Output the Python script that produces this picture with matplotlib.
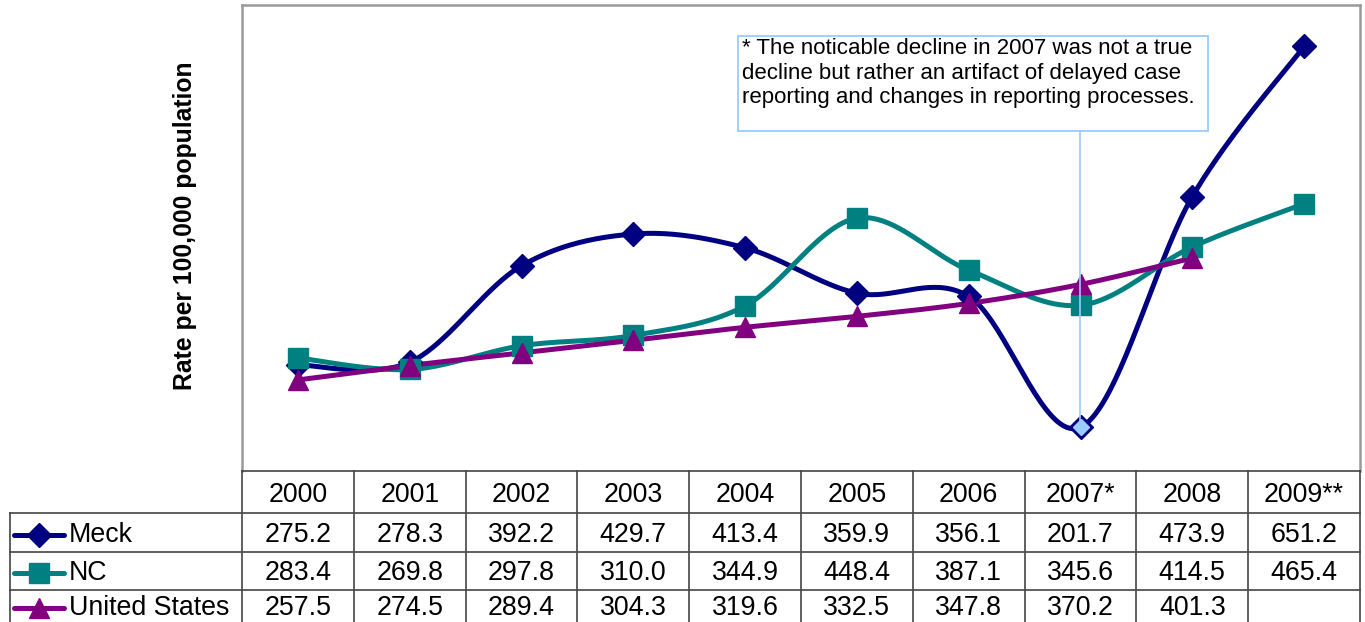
import numpy as np
import matplotlib
matplotlib.use("Agg")
import matplotlib.pyplot as plt
from matplotlib.patches import Rectangle

plt.rcParams['font.family'] = ['Liberation Sans', 'DejaVu Sans']

years = ["2000", "2001", "2002", "2003", "2004", "2005", "2006", "2007*", "2008", "2009**"]
meck = [275.2, 278.3, 392.2, 429.7, 413.4, 359.9, 356.1, 201.7, 473.9, 651.2]
nc = [283.4, 269.8, 297.8, 310.0, 344.9, 448.4, 387.1, 345.6, 414.5, 465.4]
us = [257.5, 274.5, 289.4, 304.3, 319.6, 332.5, 347.8, 370.2, 401.3, None]
series_names = ["Meck", "NC", "United States"]
series_values = [meck, nc, us]
colors = ["#000080", "#008080", "#800080"]
markers = ["D", "s", "^"]
msizes = [12, 14, 15]
note = ("* The noticable decline in 2007 was not a true\n"
        "decline but rather an artifact of delayed case\n"
        "reporting and changes in reporting processes.")
ylabel = "Rate per 100,000 population"

W, H = 1365, 622
fig = plt.figure(figsize=(W / 100, H / 100), dpi=100)

L, R, T, B = 242, 1360, 5, 471
ax = fig.add_axes([L / W, (H - B) / H, (R - L) / W, (B - T) / H])
ax.set_xlim(-0.5, 9.5)
ax.set_ylim(150, 700)
ax.set_xticks([])
ax.set_yticks([])
for s in ["left", "top", "right"]:
    ax.spines[s].set_color("#999999")
    ax.spines[s].set_linewidth(1.8)
ax.spines["bottom"].set_visible(False)


def smooth(xs, ys, n=40):
    xs = np.asarray(xs, float)
    ys = np.asarray(ys, float)
    px = np.concatenate([[xs[0]], xs, [xs[-1]]])
    py = np.concatenate([[ys[0]], ys, [ys[-1]]])
    outx, outy = [], []
    t = np.linspace(0, 1, n)
    for i in range(1, len(px) - 2):
        p0 = np.array([px[i], py[i]])
        p3 = np.array([px[i + 1], py[i + 1]])
        c1 = p0 + (np.array([px[i + 1], py[i + 1]]) - np.array([px[i - 1], py[i - 1]])) / 6
        c2 = p3 - (np.array([px[i + 2], py[i + 2]]) - np.array([px[i], py[i]])) / 6
        b = ((1 - t) ** 3)[:, None] * p0 + (3 * (1 - t) ** 2 * t)[:, None] * c1 \
            + (3 * (1 - t) * t ** 2)[:, None] * c2 + (t ** 3)[:, None] * p3
        outx.extend(b[:, 0])
        outy.extend(b[:, 1])
    return outx, outy


for name, vals, c, m, ms in zip(series_names, series_values, colors, markers, msizes):
    xs = [i for i, v in enumerate(vals) if v is not None]
    ys = [v for v in vals if v is not None]
    sx, sy = smooth(xs, ys)
    ax.plot(sx, sy, color=c, lw=3.6, solid_capstyle="round", zorder=3)
    ax.plot(xs, ys, linestyle="none", marker=m, color=c, ms=ms, zorder=4)

# highlighted 2007 Meck point and callout line
i07 = 7
ax.plot([i07], [meck[i07]], linestyle="none", marker="D", color="#99CCFF", ms=8, zorder=5)

tax = fig.add_axes([0, 0, 1, 1], facecolor="none")
tax.set_xlim(0, W)
tax.set_ylim(H, 0)
tax.axis("off")

# callout box and leader
box_x0, box_y0, box_x1, box_y1 = 738, 36, 1208, 131
xpix = ax.transData.transform((i07, meck[i07]))
tax.plot([1080, 1080], [box_y1, H - xpix[1] - 4], color="#99CCFF", lw=1.2, zorder=1)
tax.add_patch(Rectangle((box_x0, box_y0), box_x1 - box_x0, box_y1 - box_y0,
                        fc="white", ec="#99CCFF", lw=1.3, zorder=2))
tax.text(742, 38, note, fontsize=16, va="top", ha="left", linespacing=1.22, zorder=3)

fig.text(185 / W, 1 - 226 / H, ylabel, rotation=90, fontsize=17.8, fontweight="bold",
         ha="center", va="center")

# data table
col_w = (R - L) / len(years)
rows_y = [471, 513, 552, 590]
row_centers = [535, 573, 608]
lc = "#444444"
tax.plot([L, R], [rows_y[0]] * 2, color=lc, lw=1.2)
for y in rows_y[1:]:
    tax.plot([10, R], [y, y], color=lc, lw=1.2)
tax.plot([L, L], [rows_y[0], H], color=lc, lw=1.2)
tax.plot([10, 10], [rows_y[1], H], color=lc, lw=1.2)
for k in range(1, len(years) + 1):
    x = L + k * col_w
    tax.plot([x, x], [rows_y[0], H], color=lc, lw=1.2)

fs = 19.3
for k, yr in enumerate(years):
    tax.text(L + (k + 0.5) * col_w, (rows_y[0] + rows_y[1]) / 2 + 3, yr,
             ha="center", va="center", fontsize=fs)
for r, (name, vals, c, m, ms) in enumerate(zip(series_names, series_values, colors, markers, msizes)):
    yc = row_centers[r]
    tax.plot([14, 64], [yc, yc], color=c, lw=3.6, solid_capstyle="round")
    tax.plot([39], [yc], marker=m, color=c, ms=ms, linestyle="none")
    tax.text(69, yc, name, ha="left", va="center", fontsize=fs)
    for k, v in enumerate(vals):
        if v is not None:
            tax.text(L + (k + 0.5) * col_w, yc, f"{v:.1f}", ha="center", va="center", fontsize=fs)

fig.savefig("out.png", dpi=100)
